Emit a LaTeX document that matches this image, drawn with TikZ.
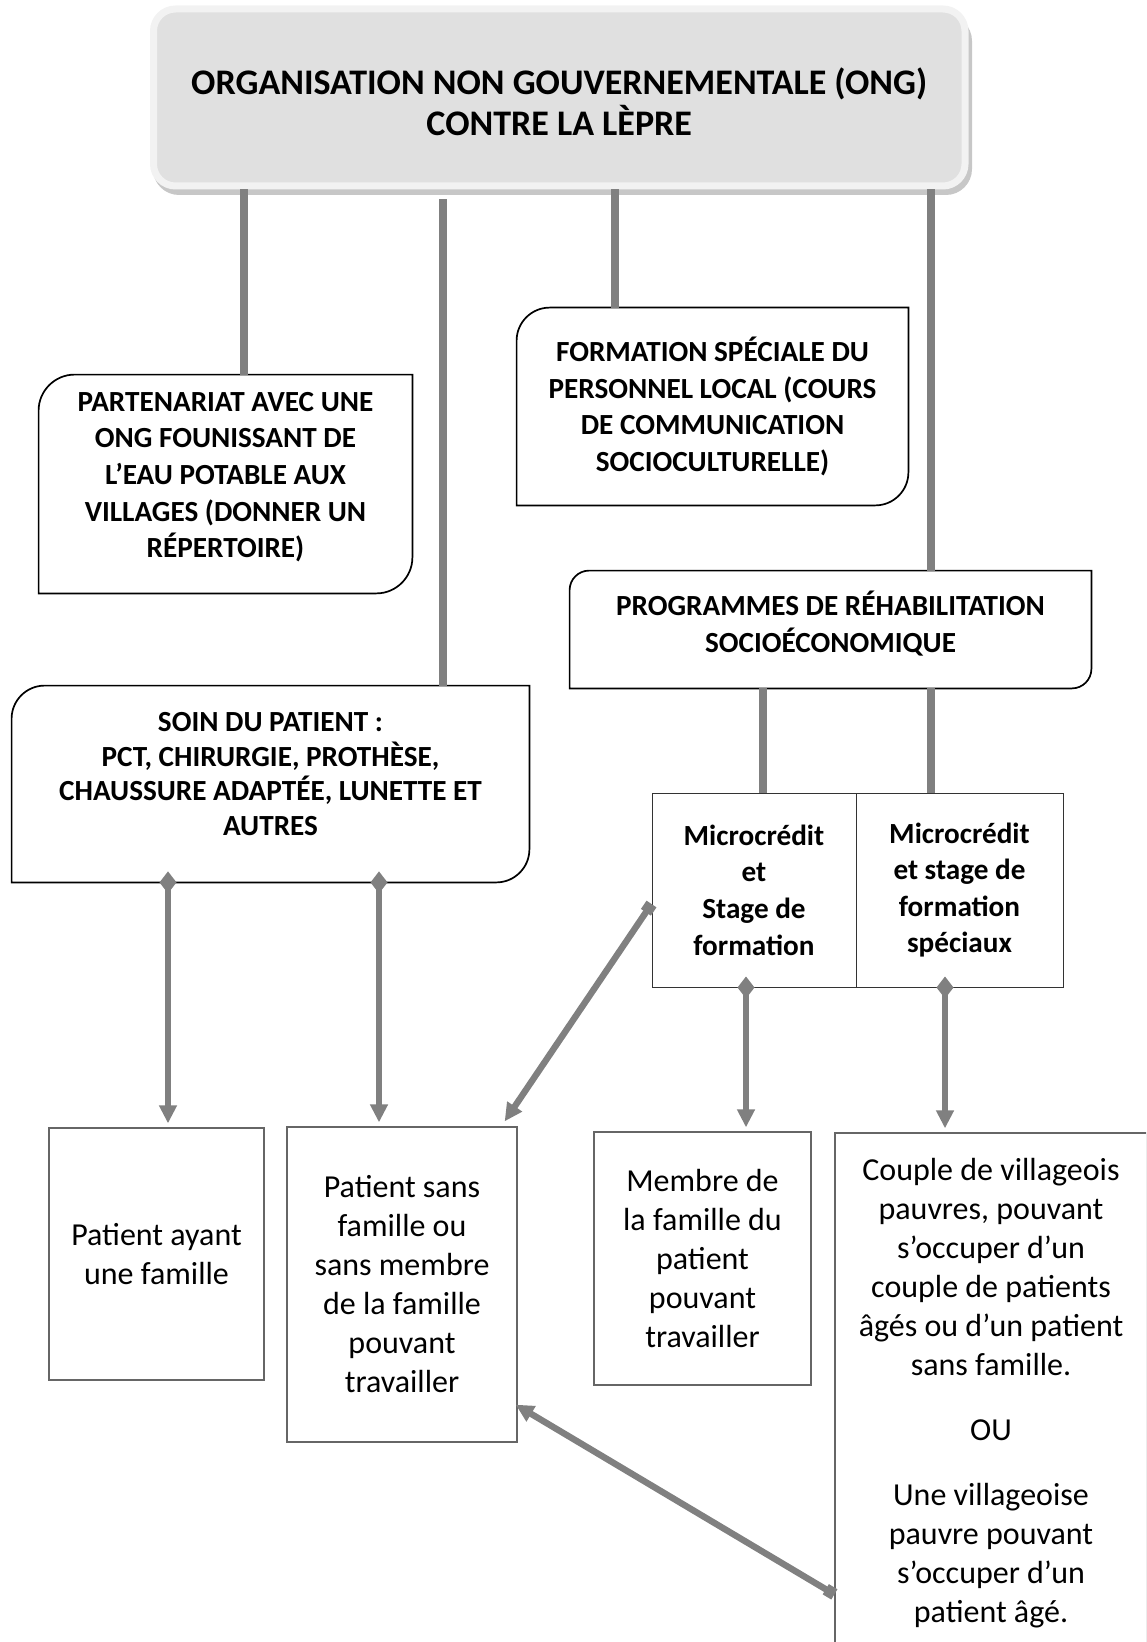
\documentclass[tikz,border=0pt]{standalone}
\usepackage{fontspec}
\setmainfont{Carlito}
\usetikzlibrary{arrows.meta}
\newcommand\ongfont{\fontsize{18}{20.5}\selectfont\bfseries}
\newcommand\actfont{\fontsize{14.6}{18.3}\selectfont\bfseries}
\newcommand\whofont{\fontsize{16}{19.5}\selectfont}
\newcommand\lift[1]{\rule[-#1]{0pt}{0pt}}
\newcommand\drop[1]{\rule{0pt}{#1}}
\newcommand\cornerbox[2]{%
  \draw[line width=0.85pt] (#1.south west) -- ([yshift=-#2]#1.north west)
    .. controls ([yshift=-0.45*#2]#1.north west) and ([xshift=0.45*#2]#1.north west) .. ([xshift=#2]#1.north west)
    -- (#1.north east) -- ([yshift=#2]#1.south east)
    .. controls ([yshift=0.45*#2]#1.south east) and ([xshift=-0.45*#2]#1.south east) .. ([xshift=-#2]#1.south east)
    -- cycle;}

\begin{document}
\begin{tikzpicture}[x=0.5pt, y=-0.5pt]
\tikzstyle{ong}=[fill=black!12, draw=black!5, line width=3.5pt, rounded corners=11pt,
  minimum width=405.75pt, minimum height=88.5pt, align=center, font=\ongfont]
\tikzstyle{act}=[align=center, inner sep=0pt, font=\actfont]
\tikzstyle{sub}=[draw=black!80, line width=0.5pt, inner sep=0pt, align=center, font=\actfont,
  minimum height=97pt]
\tikzstyle{who}=[draw=black!60, line width=0.65pt, inner sep=0pt, align=center, font=\whofont]
\tikzstyle{trunk}=[draw=black!50, line width=3.7pt]
\tikzstyle{flow}=[draw=black!50, line width=3.2pt,
  {Diamond[width=8.5pt,length=11pt]}-{Triangle[width=8.5pt,length=9pt]}]
\tikzstyle{link}=[draw=black!50, line width=3.2pt,
  {Square[width=6pt,length=5pt]}-{Triangle[width=8.5pt,length=9pt]}]

\useasboundingbox (0,0) rectangle (1146,1642);
\clip (0,0) rectangle (1146,1642);

\coordinate (xa) at (244,0);
\coordinate (xb) at (443,0);
\coordinate (xc) at (615,0);
\coordinate (xd) at (931,0);
\coordinate (xe) at (763,0);
\coordinate (xf) at (168,0);
\coordinate (xg) at (379,0);
\coordinate (xh) at (746,0);
\coordinate (xi) at (945,0);

\fill[black!22, rounded corners=13pt] (153,15) rectangle (972,195);
\node[ong](ong) at (559.25,97.5) {\drop{17.5pt}ORGANISATION NON GOUVERNEMENTALE (ONG)\\CONTRE LA LÈPRE};

\node[act, minimum width=186.5pt, minimum height=109pt](partn) at (225.5,484)
  {PARTENARIAT AVEC UNE\\ONG FOUNISSANT DE\\L’EAU POTABLE AUX\\VILLAGES (DONNER UN\\RÉPERTOIRE)\lift{9pt}};
\node[act, minimum width=195.5pt, minimum height=98.5pt](form) at (712.5,406.5)
  {FORMATION SPÉCIALE DU\\PERSONNEL LOCAL (COURS\\DE COMMUNICATION\\SOCIOCULTURELLE)};
\node[act, minimum width=260.5pt, minimum height=58.5pt](prog) at (830.5,629.5)
  {PROGRAMMES DE RÉHABILITATION\\SOCIOÉCONOMIQUE\lift{8pt}};
\node[act, minimum width=258.5pt, minimum height=98pt, font=\fontsize{14.6}{17.2}\selectfont\bfseries](soin) at (270.5,784)
  {SOIN DU PATIENT :\\PCT, CHIRURGIE, PROTHÈSE,\\CHAUSSURE ADAPTÉE, LUNETTE ET\\AUTRES\lift{10pt}};

\cornerbox{partn}{18pt}
\cornerbox{form}{16.5pt}
\cornerbox{prog}{9.75pt}
\cornerbox{soin}{16.5pt}

\node[sub, minimum width=102pt](micro1) at (754,890)
  {Microcrédit\\et\\Stage de\\formation};
\node[sub, minimum width=103.5pt](micro2) at (959.5,890)
  {Microcrédit\\et stage de\\formation\\spéciaux};

\node[who, minimum width=107.5pt, minimum height=126pt](ayant) at (156.5,1254)
  {Patient ayant\\une famille};
\node[who, minimum width=115pt, minimum height=157.5pt](sans) at (402,1284.5)
  {Patient sans\\famille ou\\sans membre\\de la famille\\pouvant\\travailler};
\node[who, minimum width=108.5pt, minimum height=126.5pt](membre) at (702.5,1258.5)
  {Membre de\\la famille du\\patient\\pouvant\\travailler};
\node[who, minimum width=156pt, minimum height=260pt](couple) at (991,1393)
  {Couple de villageois\\pauvres, pouvant\\s’occuper d’un\\couple de patients\\âgés ou d’un patient\\sans famille.\\[13pt]OU\\[13pt]Une villageoise\\pauvre pouvant\\s’occuper d’un\\patient âgé.};

\draw[trunk] (ong.south -| xa) -- (partn.north -| xa);
\draw[trunk] ([yshift=-5pt]ong.south -| xb) -- (soin.north -| xb);
\draw[trunk] (ong.south -| xc) -- (form.north -| xc);
\draw[trunk] (ong.south -| xd) -- (prog.north -| xd);
\draw[trunk] (prog.south -| xe) -- (micro1.north -| xe);
\draw[trunk] (prog.south -| xd) -- (micro2.north -| xd);

\draw[flow] ([yshift=5.5pt]soin.south -| xf) -- ([yshift=2pt]ayant.north -| xf);
\draw[flow] ([yshift=5.5pt]soin.south -| xg) -- ([yshift=2pt]sans.north -| xg);
\draw[flow] ([yshift=5.5pt]micro1.south -| xh) -- ([yshift=2pt]membre.north -| xh);
\draw[flow] ([yshift=5.5pt]micro2.south -| xi) -- ([yshift=2pt]couple.north -| xi);

\draw[link] ([yshift=-7pt]micro1.west) -- ([xshift=-6.5pt,yshift=2.5pt]sans.north east);
\draw[link] ([yshift=-231pt]couple.north west) -- ([xshift=-1pt,yshift=19pt]sans.south east);
\end{tikzpicture}
\end{document}
